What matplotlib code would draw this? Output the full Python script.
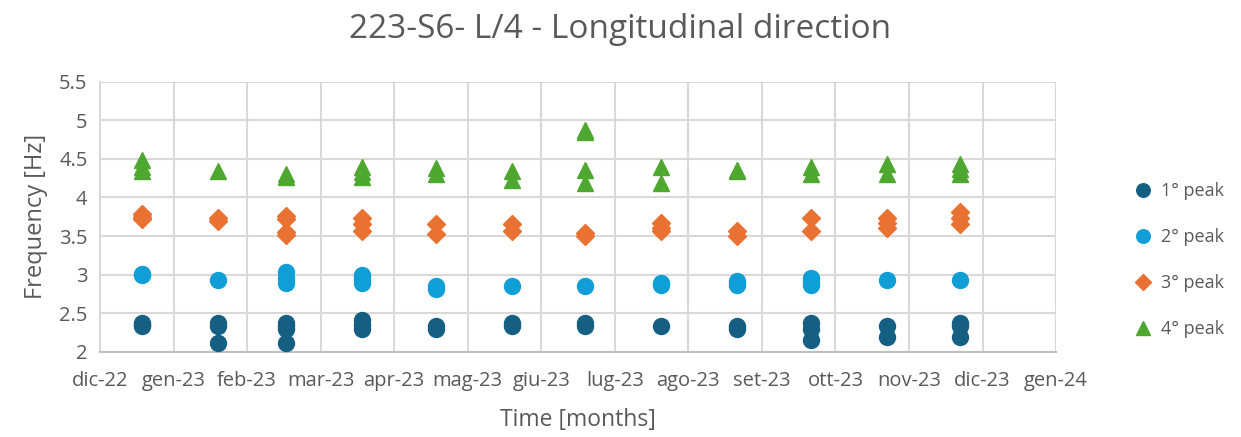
import matplotlib
matplotlib.use("Agg")
import matplotlib.pyplot as plt
import numpy as np
import datetime as dt

plt.rcParams['font.family'] = ['Open Sans', 'DejaVu Sans']

# measurements (one date per point, several points per month)
p1_dates = ["2023-01-01"]*3 + ["2023-02-01"]*3 + ["2023-03-01"]*4 + ["2023-04-01"]*3 + \
           ["2023-05-01"]*2 + ["2023-06-01"]*2 + ["2023-07-01"]*2 + ["2023-08-01"]*1 + \
           ["2023-09-01"]*2 + ["2023-10-01"]*3 + ["2023-11-01"]*2 + ["2023-12-01"]*3
p1_vals = [2.37, 2.35, 2.33,
           2.37, 2.33, 2.11,
           2.37, 2.33, 2.30, 2.11,
           2.41, 2.35, 2.30,
           2.33, 2.30,
           2.37, 2.34,
           2.37, 2.34,
           2.34,
           2.33, 2.30,
           2.37, 2.30, 2.15,
           2.33, 2.19,
           2.37, 2.34, 2.19]

p2_dates = ["2023-01-01"]*2 + ["2023-02-01"]*1 + ["2023-03-01"]*3 + ["2023-04-01"]*3 + \
           ["2023-05-01"]*2 + ["2023-06-01"]*1 + ["2023-07-01"]*1 + ["2023-08-01"]*2 + \
           ["2023-09-01"]*2 + ["2023-10-01"]*3 + ["2023-11-01"]*1 + ["2023-12-01"]*1
p2_vals = [3.01, 3.00,
           2.93,
           3.04, 2.95, 2.89,
           3.00, 2.95, 2.89,
           2.85, 2.81,
           2.85,
           2.85,
           2.89, 2.86,
           2.92, 2.86,
           2.96, 2.91, 2.86,
           2.93,
           2.93]

p3_dates = ["2023-01-01"]*3 + ["2023-02-01"]*2 + ["2023-03-01"]*4 + ["2023-04-01"]*3 + \
           ["2023-05-01"]*2 + ["2023-06-01"]*2 + ["2023-07-01"]*2 + ["2023-08-01"]*3 + \
           ["2023-09-01"]*2 + ["2023-10-01"]*2 + ["2023-11-01"]*3 + ["2023-12-01"]*3
p3_vals = [3.78, 3.75, 3.72,
           3.74, 3.69,
           3.76, 3.72, 3.55, 3.51,
           3.73, 3.65, 3.57,
           3.65, 3.53,
           3.65, 3.56,
           3.54, 3.50,
           3.67, 3.61, 3.56,
           3.57, 3.50,
           3.74, 3.57,
           3.73, 3.67, 3.61,
           3.81, 3.73, 3.65]

p4_dates = ["2023-01-01"]*3 + ["2023-02-01"]*1 + ["2023-03-01"]*2 + ["2023-04-01"]*3 + \
           ["2023-05-01"]*2 + ["2023-06-01"]*2 + ["2023-07-01"]*4 + ["2023-08-01"]*2 + \
           ["2023-09-01"]*2 + ["2023-10-01"]*2 + ["2023-11-01"]*2 + ["2023-12-01"]*3
p4_vals = [4.48, 4.40, 4.34,
           4.34,
           4.30, 4.27,
           4.40, 4.33, 4.27,
           4.38, 4.31,
           4.34, 4.22,
           4.88, 4.85, 4.35, 4.19,
           4.40, 4.19,
           4.36, 4.34,
           4.40, 4.30,
           4.44, 4.31,
           4.44, 4.37, 4.30]

labels = ["1° peak", "2° peak", "3° peak", "4° peak"]
colors = ["#156082", "#0F9ED5", "#E97132", "#4EA72E"]
markers = ["o", "o", "D", "^"]
sizes = [11.5, 11.5, 9.5, 11.5]

it_months = ["gen", "feb", "mar", "apr", "mag", "giu", "lug", "ago", "set", "ott", "nov", "dic"]

fig = plt.figure(figsize=(12.41, 4.37), dpi=100)
ax = fig.add_axes([0.0806, 0.195, 0.851 - 0.0806, 0.813 - 0.195])

series = [(p1_dates, p1_vals), (p2_dates, p2_vals), (p3_dates, p3_vals), (p4_dates, p4_vals)]
for (d, v), lab, c, m, s in zip(series, labels, colors, markers, sizes):
    x = [dt.datetime.strptime(t, "%Y-%m-%d") for t in d]
    ax.plot(x, v, linestyle="none", marker=m, markersize=s, color=c, label=lab, zorder=3)

x0 = dt.datetime(2022, 12, 15)
ticks = [x0 + dt.timedelta(days=30*i) for i in range(14)]
ax.set_xlim(ticks[0], ticks[-1])
ax.set_xticks(ticks)
ax.set_xticklabels([f"{it_months[t.month-1]}-{t.strftime('%y')}" for t in ticks])

ax.set_ylim(2, 5.5)
yt = np.arange(2, 5.51, 0.5)
ax.set_yticks(yt)
ax.set_yticklabels([f"{v:g}" for v in yt])

ax.grid(True, color="#D9D9D9", linewidth=1.5, zorder=0)
ax.set_axisbelow(True)
for sp in ["top", "right"]:
    ax.spines[sp].set_visible(False)
ax.spines["left"].set_color("#D9D9D9")
ax.spines["left"].set_linewidth(1.5)
ax.spines["bottom"].set_color("#BFBFBF")
ax.spines["bottom"].set_linewidth(1.5)
ax.tick_params(length=0, labelsize=14.5, labelcolor="#595959")
ax.tick_params(axis="x", pad=14)
ax.tick_params(axis="y", pad=9)

ax.set_xlabel("Time [months]", fontsize=16.5, color="#595959", labelpad=12)
ax.set_ylabel("Frequency [Hz]", fontsize=17, color="#595959", labelpad=8)
fig.suptitle("223-S6- L/4 - Longitudinal direction", fontsize=24, color="#595959", y=0.97)

fig.legend(loc="center left", bbox_to_anchor=(0.893, 0.405), frameon=False,
           fontsize=13, labelspacing=1.55, handletextpad=0.05, markerscale=0.85,
           labelcolor="#595959")

plt.savefig("out.png", dpi=100)
